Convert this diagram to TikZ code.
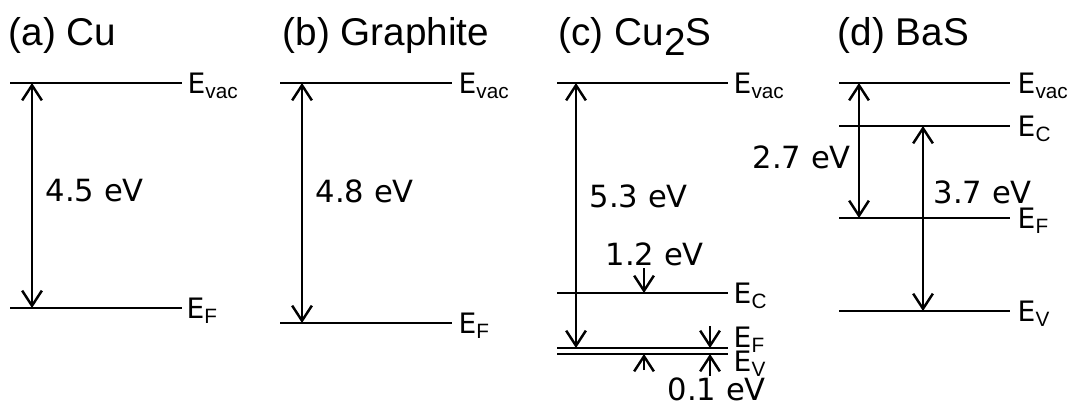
\documentclass[tikz,border=0pt]{standalone}
\usepackage{fontspec}
\setmainfont{Liberation Sans}
\newfontfamily\dvfont{DejaVu Sans}
\usetikzlibrary{arrows.meta}
\newcommand\lvlab[1]{{\dvfont\fontsize{8pt}{9pt}\selectfont E}\raisebox{-1.6pt}{\fontsize{5.9pt}{7pt}\selectfont #1}}
\tikzset{
  level/.style={line width=0.75pt},
  lab/.style={anchor=base west, inner sep=0pt},
  num/.style={anchor=base west, inner sep=0pt, font=\dvfont\fontsize{8.7pt}{10pt}\selectfont},
  ttl/.style={anchor=base west, inner sep=0pt, font=\fontsize{11pt}{13pt}\selectfont},
  tip/.tip={Straight Barb[length=4.3pt,width=5.6pt,line width=0.7pt]},
  dbl/.style={line width=0.7pt, tip-tip},
  sgl/.style={line width=0.7pt, -tip},
}
\begin{document}
\begin{tikzpicture}[x=0.01cm,y=-0.01cm]
\useasboundingbox (0,0) rectangle (1068,406);
% titles
\node[ttl] (ta) at (8,45) {(a) Cu};
\node[ttl] (tb) at (282,45) {(b) Graphite};
\node[ttl] (tc) at (558,45) {(c) Cu\raisebox{-2.9pt}{2}S};
\node[ttl] (td) at (837,45) {(d) BaS};
% (a) Cu
\coordinate (aV1) at (10,83); \coordinate (aV2) at (182,83);
\coordinate (aF1) at (10,308); \coordinate (aF2) at (182,308);
\draw[level] (aV1) -- (aV2);
\draw[level] (aF1) -- (aF2);
\node[lab] (aVl) at (187,93) {\lvlab{vac}};
\node[lab] (aFl) at (186,318) {\lvlab{F}};
\coordinate (aT) at (32,83); \coordinate (aB) at (32,308);
\draw[dbl] (aT) -- (aB);
\node[num] (aW) at (45,201) {4.5 eV};
% (b) Graphite
\coordinate (bV1) at (280,83); \coordinate (bV2) at (452,83);
\coordinate (bF1) at (280,323); \coordinate (bF2) at (452,323);
\draw[level] (bV1) -- (bV2);
\draw[level] (bF1) -- (bF2);
\node[lab] (bVl) at (458,93) {\lvlab{vac}};
\node[lab] (bFl) at (458,333) {\lvlab{F}};
\coordinate (bT) at (302,83); \coordinate (bB) at (302,323);
\draw[dbl] (bT) -- (bB);
\node[num] (bW) at (315,202) {4.8 eV};
% (c) Cu2S
\coordinate (cV1) at (557,83); \coordinate (cV2) at (728,83);
\coordinate (cC1) at (557,293); \coordinate (cC2) at (728,293);
\coordinate (cF1) at (557,348); \coordinate (cF2) at (728,348);
\coordinate (cE1) at (557,354); \coordinate (cE2) at (728,354);
\draw[level] (cV1) -- (cV2);
\draw[level] (cC1) -- (cC2);
\draw[level] (cF1) -- (cF2);
\draw[level] (cE1) -- (cE2);
\node[lab] (cVl) at (733,93) {\lvlab{vac}};
\node[lab] (cCl) at (733,303) {\lvlab{C}};
\node[lab] (cFl) at (733,347) {\lvlab{F}};
\node[lab] (cEl) at (733,371) {\lvlab{V}};
\coordinate (cT) at (576,83); \coordinate (cB) at (576,348);
\draw[dbl] (cT) -- (cB);
\node[num] (cW) at (589,207) {5.3 eV};
\coordinate (c12s) at (644,268); \coordinate (c12e) at (644,293);
\draw[sgl] (c12s) -- (c12e);
\node[num] (c12) at (605,265) {1.2 eV};
\coordinate (c01a) at (710,326); \coordinate (c01b) at (710,348);
\draw[sgl] (c01a) -- (c01b);
\coordinate (c01c) at (710,376); \coordinate (c01d) at (710,354);
\draw[sgl] (c01c) -- (c01d);
\coordinate (c01e) at (644,370); \coordinate (c01f) at (644,354);
\draw[sgl] (c01e) -- (c01f);
\node[num] (c01) at (667,400) {0.1 eV};
% (d) BaS
\coordinate (dV1) at (839,83); \coordinate (dV2) at (1010,83);
\coordinate (dC1) at (839,126); \coordinate (dC2) at (1010,126);
\coordinate (dF1) at (839,218); \coordinate (dF2) at (1010,218);
\coordinate (dE1) at (839,311); \coordinate (dE2) at (1010,311);
\draw[level] (dV1) -- (dV2);
\draw[level] (dC1) -- (dC2);
\draw[level] (dF1) -- (dF2);
\draw[level] (dE1) -- (dE2);
\node[lab] (dVl) at (1017,93) {\lvlab{vac}};
\node[lab] (dCl) at (1017,136) {\lvlab{C}};
\node[lab] (dFl) at (1017,228) {\lvlab{F}};
\node[lab] (dEl) at (1017,321) {\lvlab{V}};
\coordinate (d1T) at (859,83); \coordinate (d1B) at (859,218);
\draw[dbl] (d1T) -- (d1B);
\coordinate (d2T) at (923,126); \coordinate (d2B) at (923,311);
\draw[dbl] (d2T) -- (d2B);
\node[num] (d27) at (752,168) {2.7 eV};
\node[num] (d37) at (933,203) {3.7 eV};
\end{tikzpicture}
\end{document}
